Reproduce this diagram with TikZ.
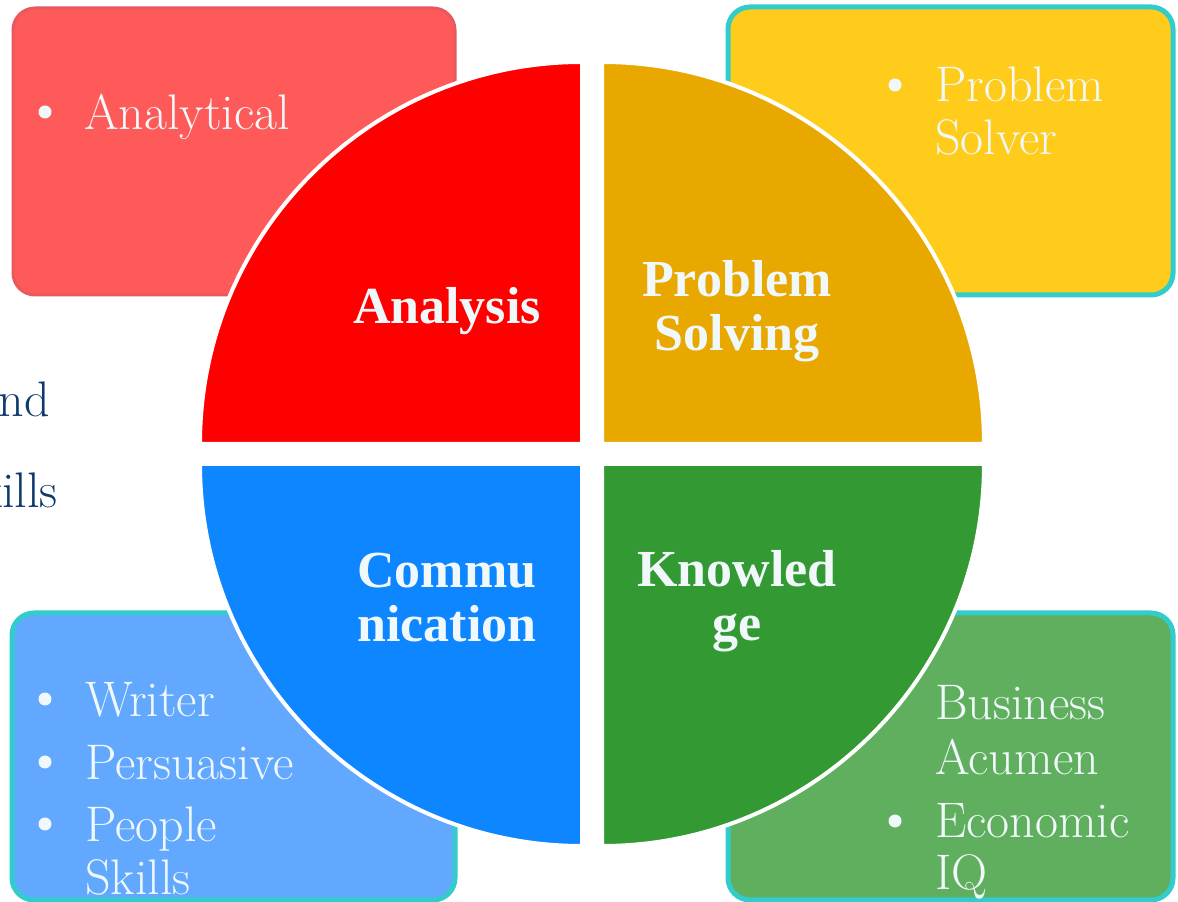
\documentclass[tikz,border=0pt]{standalone}
\usepackage{fontspec}
\newfontfamily\labelfont{Liberation Serif}
\definecolor{cardred}{HTML}{FF5A5A}
\definecolor{cardredrim}{HTML}{E8585C}
\definecolor{cardyellow}{HTML}{FFCC1C}
\definecolor{cardblue}{HTML}{62A8FF}
\definecolor{cardgreen}{HTML}{5FAF5F}
\definecolor{cardrim}{HTML}{33CCCC}
\definecolor{quadred}{HTML}{FF0000}
\definecolor{quadorange}{HTML}{E9A800}
\definecolor{quadblue}{HTML}{0D86FF}
\definecolor{quadgreen}{HTML}{339933}
\definecolor{itemwhite}{HTML}{F0F8FA}
\definecolor{slideblue}{HTML}{0E3A6B}
\begin{document}
\begin{tikzpicture}[x=1pt,y=1pt,
  card/.style={rectangle, rounded corners=22pt, inner sep=0pt},
  rimmed/.style={draw=cardrim, line width=5pt},
  itemtext/.style={anchor=base west, inner sep=0pt, text=itemwhite,
    font=\fontsize{50}{53}\selectfont},
  slidetext/.style={anchor=base east, inner sep=0pt, text=slideblue,
    font=\fontsize{50}{53}\selectfont},
  itemdot/.style={circle, fill=itemwhite, inner sep=0pt, minimum size=13pt},
  wedge/.style={draw=white, line width=4pt},
  quadlabel/.style={anchor=base, inner sep=0pt, text=itemwhite,
    font=\labelfont\bfseries\fontsize{52}{54}\selectfont}]
\useasboundingbox (0,0) rectangle (1178,902);
\clip (0,0) rectangle (1178,902);
\fill[white] (0,0) rectangle (1178,902);

% corner cards
\node[card, fill=cardred, draw=cardredrim, line width=3pt,
  minimum width=442pt, minimum height=287pt] (cardA) at (234,750.5) {};
\node[card, fill=cardyellow, rimmed,
  minimum width=445pt, minimum height=288pt] (cardP) at (950.5,751) {};
\node[card, fill=cardblue, rimmed,
  minimum width=443pt, minimum height=287pt] (cardC) at (233.5,145.5) {};
\node[card, fill=cardgreen, rimmed,
  minimum width=445pt, minimum height=287pt] (cardK) at (950.5,145.5) {};

% card items
\node[itemdot] (dA1) at (45,790) {};
\node[itemtext] (tA1) at (84,772) {Analytical};

\node[itemdot] (dP1) at (895,817) {};
\node[itemtext] (tP1) at (935,800) {Problem};
\node[itemtext] (tP2) at (935,747) {Solver};

\node[itemdot] (dC1) at (45,203) {};
\node[itemtext] (tC1) at (85,185) {Writer};
\node[itemdot] (dC2) at (45,140) {};
\node[itemtext] (tC2) at (85,122) {Persuasive};
\node[itemdot] (dC3) at (45,78) {};
\node[itemtext] (tC3) at (85,60) {People};
\node[itemtext] (tC4) at (85,7) {Skills};

\node[itemdot] (dK1) at (895,200) {};
\node[itemtext] (tK1) at (935,182) {Business};
\node[itemtext] (tK2) at (935,127) {Acumen};
\node[itemdot] (dK2) at (895,81) {};
\node[itemtext] (tK3) at (935,64) {Economic};
\node[itemtext] (tK4) at (935,12) {IQ};

% slide text running off the left edge
\node[slidetext] (s1) at (50,485) {and};
\node[slidetext] (s2) at (58,394) {skills};

% the four quarters
\draw[wedge, fill=quadred] (582,458) -- (200,458)
  arc[start angle=180, end angle=90, radius=382pt] -- cycle;
\draw[wedge, fill=quadorange] (602,458) -- (602,840)
  arc[start angle=90, end angle=0, radius=382pt] -- cycle;
\draw[wedge, fill=quadblue] (582,438) -- (200,438)
  arc[start angle=180, end angle=270, radius=382pt] -- cycle;
\draw[wedge, fill=quadgreen] (602,438) -- (984,438)
  arc[start angle=0, end angle=-90, radius=382pt] -- cycle;

% quarter titles
\node[quadlabel] (qA) at (447,578) {Analysis};
\node[quadlabel] (qP1) at (737,605) {Problem};
\node[quadlabel] (qP2) at (737,551) {Solving};
\node[quadlabel] (qC1) at (447,314) {Commu};
\node[quadlabel] (qC2) at (447,260) {nication};
\node[quadlabel] (qK1) at (737,315) {Knowled};
\node[quadlabel] (qK2) at (737,261) {ge};
\end{tikzpicture}
\end{document}
